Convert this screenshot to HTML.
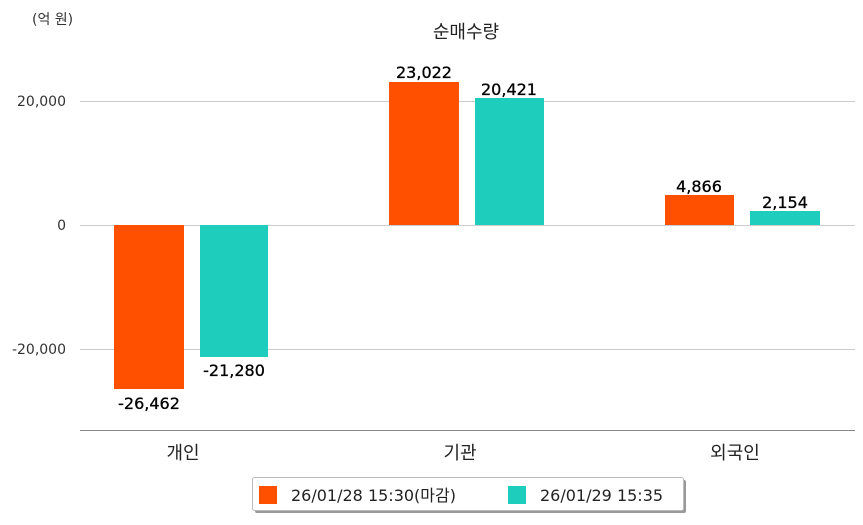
<!DOCTYPE html>
<html><head><meta charset="utf-8"><style>
body{margin:0;background:#fff;width:863px;height:520px;overflow:hidden}
svg text{font-family:"DejaVu Sans","Noto Sans CJK KR",sans-serif}
</style></head><body>
<svg width="863" height="520" xmlns="http://www.w3.org/2000/svg">
<text x="32" y="24" font-size="14" fill="#333">(억 원)</text>
<text x="466" y="38" font-size="18" fill="#222" text-anchor="middle">순매수량</text>
<g stroke="#ccc" stroke-width="1">
<line x1="80" y1="101.5" x2="855" y2="101.5"/>
<line x1="80" y1="225.5" x2="855" y2="225.5"/>
<line x1="80" y1="349.5" x2="855" y2="349.5"/>
</g>
<line x1="80" y1="430.5" x2="855" y2="430.5" stroke="#888"/>
<g font-size="14" fill="#333" text-anchor="end">
<text x="66" y="106">20,000</text>
<text x="66" y="230">0</text>
<text x="66" y="354">-20,000</text>
</g>
<g fill="#ff5000">
<rect x="114" y="225" width="70" height="164"/>
<rect x="389" y="82" width="70" height="143"/>
<rect x="665" y="195" width="69" height="30"/>
</g>
<g fill="#1ecdbc">
<rect x="200" y="225" width="68" height="132"/>
<rect x="475" y="98" width="69" height="127"/>
<rect x="750" y="211" width="70" height="14"/>
</g>
<g font-size="16" fill="#000" text-anchor="middle" stroke="#000" stroke-width="0.3">
<text x="149" y="409">-26,462</text>
<text x="234" y="376">-21,280</text>
<text x="424" y="78">23,022</text>
<text x="509" y="95">20,421</text>
<text x="699" y="192">4,866</text>
<text x="785" y="208">2,154</text>
</g>
<g font-size="18" fill="#222" text-anchor="middle">
<text x="183" y="459">개인</text>
<text x="460" y="459">기관</text>
<text x="735" y="459">외국인</text>
</g>
<rect x="255" y="480" width="431" height="33" fill="#999" rx="2"/>
<rect x="252.5" y="477.5" width="431" height="33" fill="#fff" stroke="#bbb" rx="2"/>
<rect x="259" y="486" width="18" height="18" fill="#ff5000"/>
<text x="291" y="501" font-size="16" fill="#222">26/01/28 15:30(마감)</text>
<rect x="508" y="486" width="18" height="18" fill="#1ecdbc"/>
<text x="540" y="501" font-size="16" fill="#222">26/01/29 15:35</text>
</svg>
</body></html>
